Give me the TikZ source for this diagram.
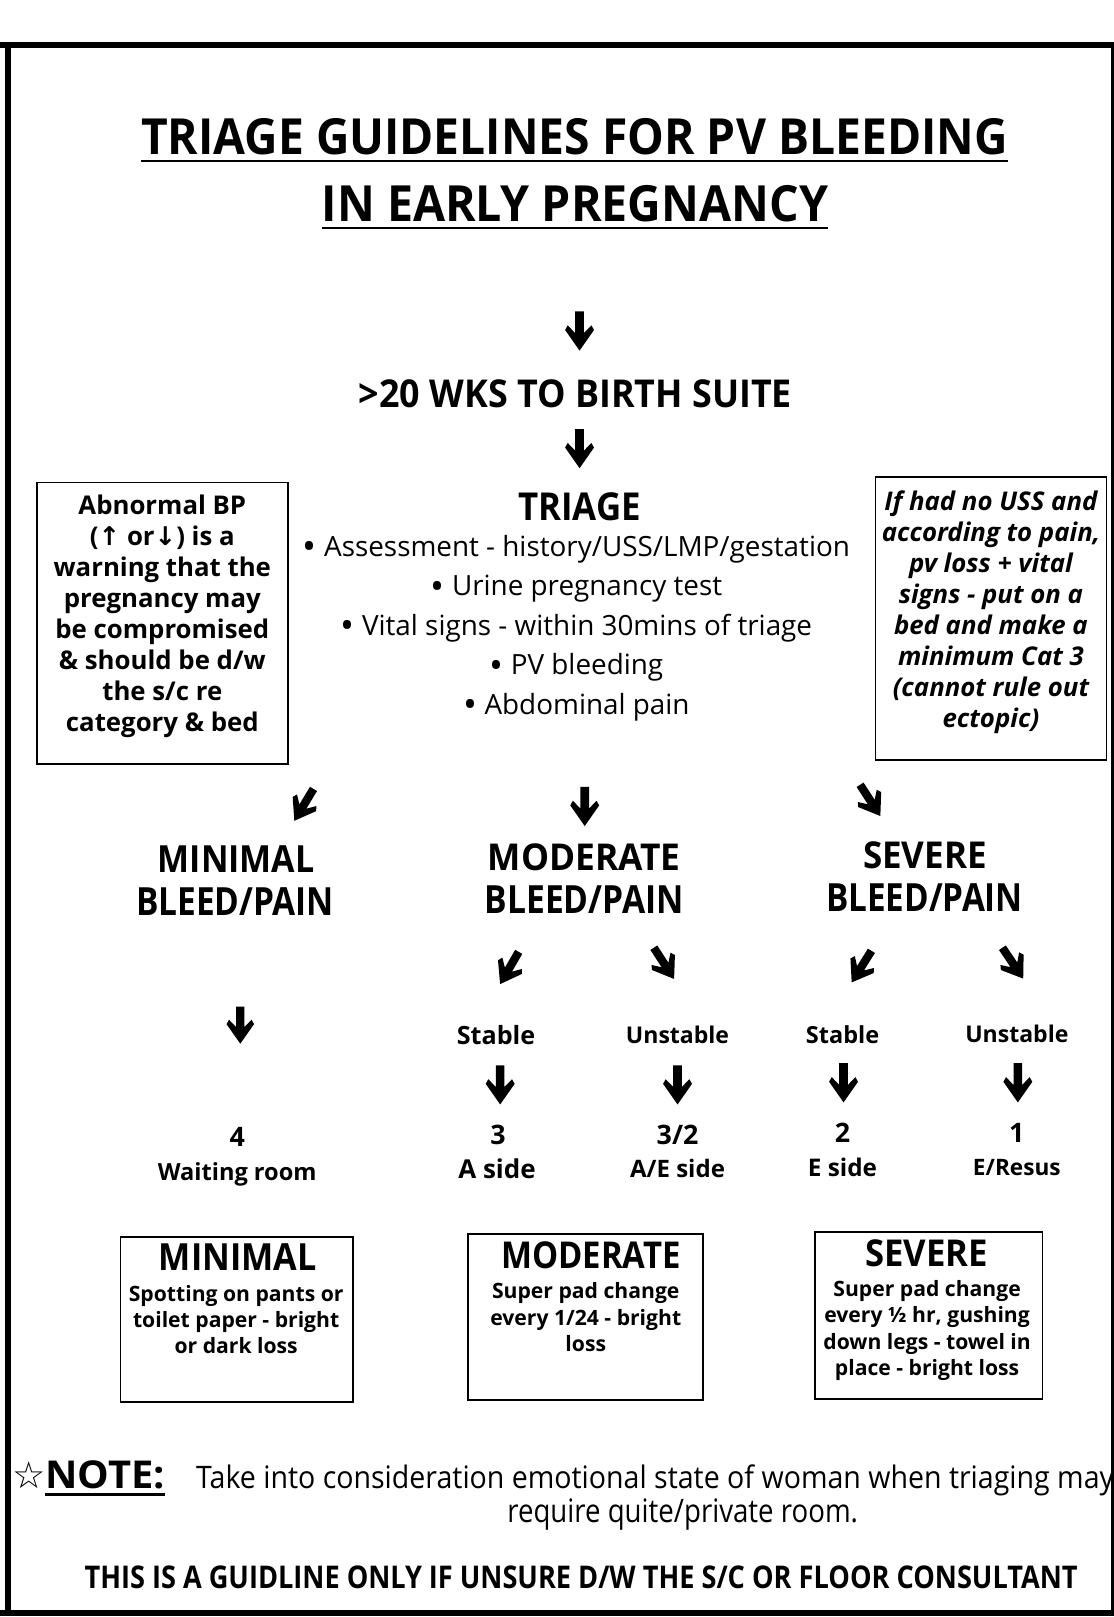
\documentclass[tikz,border=0pt]{standalone}
\usepackage{fontspec}
\usepackage{graphicx}
\setmainfont{Open Sans}
\newfontfamily\symfont{DejaVu Sans}
\usetikzlibrary{calc}
\newcommand{\fitbox}[3]{\resizebox{#1pt}{#2pt}{#3}}
\newcommand{\fitw}[2]{\resizebox{#1pt}{!}{#2}}
\newcommand{\blt}{{\fontsize{36}{38}\selectfont\raisebox{-3.5pt}{•}}}
\begin{document}
\begin{tikzpicture}[x=1pt,y=-1pt,
  txt/.style={inner sep=0pt,outer sep=0pt,font=\bfseries},
  body/.style={inner sep=0pt,outer sep=0pt,align=center},
  box/.style={draw,line width=1.8pt,inner sep=0pt,anchor=north west},
  rule/.style={line width=2.5pt},
  pics/fatarrow/.style={code={
    \fill (-4.2,0) -- (4.2,0) -- (4.2,21) -- (11.5,13.5) -- (14,18) -- (0,38)
          -- (-14,18) -- (-11.5,13.5) -- (-4.2,21) -- cycle;
  }},
]
\clip (0,0) rectangle (1080,1568);
\fill[white] (0,0) rectangle (1080,1568);

% outer frame
\draw[line width=6pt] (8,1563) -- (8,44);
\draw[line width=6pt] (0,44) -- (1090,44);
\draw[line width=6pt] (0,1564) -- (1090,1564);
\draw[line width=3pt] (1079,44) -- (1079,1564);

% heading
\node[txt,anchor=base] (t1) at (557,150) {\fitbox{840}{35}{TRIAGE GUIDELINES FOR PV BLEEDING}};
\draw[rule] ($(t1.base west)+(0,6)$) -- ($(t1.base east)+(0,6)$);
\node[txt,anchor=base] (t2) at (557.5,215) {\fitbox{491}{35}{IN EARLY PREGNANCY}};
\draw[rule] ($(t2.base west)+(0,6)$) -- ($(t2.base east)+(0,6)$);

% entry
\coordinate (a1) at (562,302);
\pic at (a1) {fatarrow};
\node[txt,anchor=base] (wks) at (558,395) {\fitbox{420}{27}{>20 WKS TO BIRTH SUITE}};
\coordinate (a2) at (562,416);
\pic at (a2) {fatarrow};

% triage block
\node[txt,anchor=base] (triage) at (562,505) {\fitbox{119}{27}{TRIAGE}};
\node[body,anchor=north,font=\fontsize{27}{38.3}\selectfont] (list) at (559,519)
  {\blt\ Assessment - history/USS/LMP/gestation\\
   \blt\ Urine pregnancy test\\
   \blt\ Vital signs - within 30mins of triage\\
   \blt\ PV bleeding\\
   \blt\ Abdominal pain};

% side notes
\node[box,minimum width=243pt,minimum height=273pt] (bpbox) at (35,467) {};
\node[body,anchor=north,font=\bfseries\fontsize{25}{30}\selectfont] (bptext) at ($(bpbox.north)+(0,13)$)
  {Abnormal BP\\
   ({\symfont\bfseries ↑} or{\symfont\bfseries ↓}) is a\\
   warning that the\\
   pregnancy may\\
   be compromised\\
   \& should be d/w\\
   the s/c re\\
   category \& bed};
\node[box,minimum width=224pt,minimum height=274pt] (ussbox) at (848,462) {};
\node[body,anchor=north,font=\bfseries\itshape\fontsize{25}{30}\selectfont] (usstext) at ($(ussbox.north)+(0,14)$)
  {If had no USS and\\
   according to pain,\\
   pv loss + vital\\
   signs - put on a\\
   bed and make a\\
   minimum Cat 3\\
   (cannot rule out\\
   ectopic)};

% three grades
\coordinate (b1) at (304,765);
\pic[rotate=-31,scale=0.95] at (b1) {fatarrow};
\coordinate (b2) at (567,763);
\pic at (b2) {fatarrow};
\coordinate (b3) at (834,761);
\pic[rotate=33,scale=0.95] at (b3) {fatarrow};

\node[txt,anchor=base] (minT) at (229,846) {\fitbox{152}{26}{MINIMAL}};
\node[txt,anchor=base] (minB) at (228,888) {\fitbox{192}{27}{BLEED/PAIN}};
\node[txt,anchor=base] (modT) at (566.5,844) {\fitbox{187}{26}{MODERATE}};
\node[txt,anchor=base] (modB) at (566.5,886) {\fitbox{193}{27}{BLEED/PAIN}};
\node[txt,anchor=base] (sevT) at (897,842) {\fitbox{120}{26}{SEVERE}};
\node[txt,anchor=base] (sevB) at (896.5,884) {\fitbox{191}{27}{BLEED/PAIN}};

% branches
\coordinate (c0) at (233,976);
\pic[scale=0.95] at (c0) {fatarrow};
\coordinate (c1) at (503,923);
\pic[rotate=-30,scale=0.95] at (c1) {fatarrow};
\coordinate (c2) at (634,919);
\pic[rotate=33,scale=0.95] at (c2) {fatarrow};
\coordinate (c3) at (845,922);
\pic[rotate=-32,scale=0.95] at (c3) {fatarrow};
\coordinate (c4) at (972,919);
\pic[rotate=34,scale=0.95] at (c4) {fatarrow};

\node[txt,anchor=base] (st1) at (481,1013) {\fitw{76}{Stable}};
\node[txt,anchor=base] (un1) at (657,1012) {\fitw{100}{Unstable}};
\node[txt,anchor=base] (st2) at (817,1012) {\fitw{71}{Stable}};
\node[txt,anchor=base] (un2) at (986,1011) {\fitw{100}{Unstable}};

\foreach \n/\x/\y in {d1/485/1033, d2/657/1033, d3/818/1031, d4/987/1031}{
  \coordinate (\n) at (\x,\y);
  \pic at (\n) {fatarrow};
}

% destinations
\tikzset{dest/.style={txt,anchor=base,font=\bfseries\fontsize{26}{30}\selectfont}}
\node[dest] (n4) at (230,1112) {4};
\node[dest] (w4) at (230,1145) {\fitw{154}{Waiting room}};
\node[dest] (n3) at (483,1110) {3};
\node[dest] (w3) at (482,1143) {\fitw{75}{A side}};
\node[dest] (n32) at (657,1110) {3/2};
\node[dest] (w32) at (657,1142) {\fitw{92}{A/E side}};
\node[dest] (n2) at (817,1108) {2};
\node[dest] (w2) at (817,1141) {\fitw{67}{E side}};
\node[dest] (n1) at (986,1108) {1};
\node[dest] (w1) at (986,1140) {\fitw{85}{E/Resus}};

% definitions
\tikzset{deftext/.style={body,anchor=north,font=\bfseries\fontsize{20.5}{25.3}\selectfont}}
\node[box,minimum width=225pt,minimum height=160pt] (minbox) at (116,1199) {};
\node[txt,anchor=base] (minbt) at (230.5,1232) {\fitbox{153}{26}{MINIMAL}};
\node[deftext] (mintx) at (229,1246)
  {Spotting on pants or\\ toilet paper - bright\\ or dark loss};
\node[box,minimum width=228pt,minimum height=161pt] (modbox) at (453,1196) {};
\node[txt,anchor=base] (modbt) at (573,1230) {\fitbox{174}{26}{MODERATE}};
\node[deftext] (modtx) at (568,1244)
  {Super pad change\\ every 1/24 - bright\\ loss};
\node[box,minimum width=221pt,minimum height=162pt] (sevbox) at (789,1194) {};
\node[txt,anchor=base] (sevbt) at (898.5,1228) {\fitbox{119}{26}{SEVERE}};
\node[deftext] (sevtx) at (899,1242)
  {Super pad change\\ every ½ hr, gushing\\ down legs - towel in\\ place - bright loss};

% footer
\node[inner sep=0pt,anchor=base west,font=\symfont\fontsize{36}{38}\selectfont] (star) at (12,1443) {☆};
\node[txt,anchor=base west] (note) at (44,1443) {\fitbox{116}{27}{NOTE:}};
\draw[rule] ($(note.base west)+(0,6)$) -- ($(note.base east)+(0,6)$);
\node[inner sep=0pt,anchor=base west] (notetx) at (190,1443) {\fitbox{890}{23}{Take into consideration emotional state of woman when triaging may}};
\node[inner sep=0pt,anchor=base] (notetx2) at (662,1476) {\fitbox{340}{23}{require quite/private room.}};
\node[txt,anchor=base] (final) at (563.5,1540) {\fitbox{963}{22}{THIS IS A GUIDLINE ONLY IF UNSURE D/W THE S/C OR FLOOR CONSULTANT}};
\end{tikzpicture}
\end{document}
